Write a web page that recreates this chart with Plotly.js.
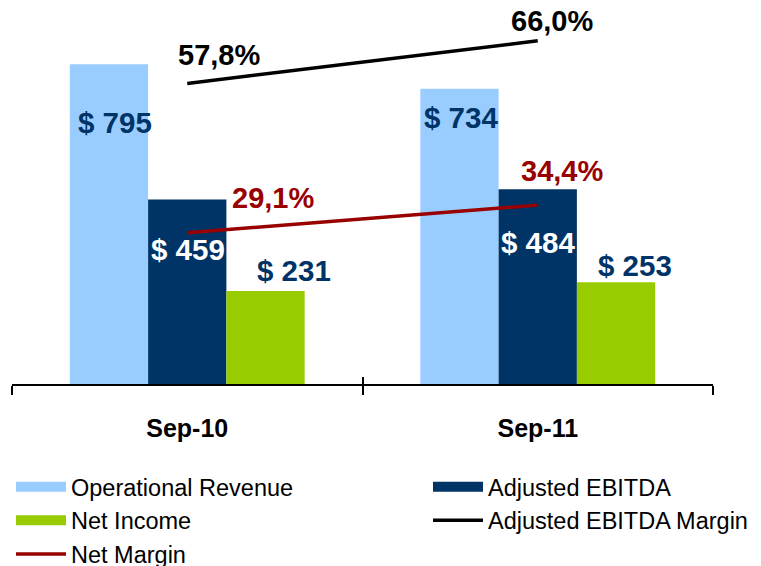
<!DOCTYPE html>
<html>
<head>
<meta charset="utf-8">
<script src="https://cdn.plot.ly/plotly-3.0.1.min.js"></script>
<style>html,body{margin:0;padding:0;background:#ffffff;}</style>
</head>
<body>
<div id="chart" style="width:761px;height:566px;"></div>
<script>
// ---- data ----
const categories = ['Sep-10', 'Sep-11'];
const operationalRevenue = [795, 734];
const adjustedEbitda = [459, 484];
const netIncome = [231, 253];
const adjustedEbitdaMargin = [57.8, 66.0];
const netMargin = [29.1, 34.4];

// ---- styles ----
const FONT = 'Arial, "Liberation Sans", sans-serif';
const BARGAP = 0.33;
const C_REV = '#99CCFF', C_EBITDA = '#003366', C_NI = '#99CC00';
const C_EM = '#000000', C_NM = '#990000', C_LABEL = '#003366';

const barSeries = [
  {name: 'Operational Revenue', values: operationalRevenue, color: C_REV, textColor: C_LABEL, legend: 'legend',
   shifts: [[6, -58], [2, -29]]},
  {name: 'Adjusted EBITDA', values: adjustedEbitda, color: C_EBITDA, textColor: '#FFFFFF', legend: 'legend2',
   shifts: [[1, -50], [0, -53]]},
  {name: 'Net Income', values: netIncome, color: C_NI, textColor: C_LABEL, legend: 'legend',
   shifts: [[28, 21], [19, 17]]}
];
const lineSeries = [
  {name: 'Adjusted EBITDA Margin', values: adjustedEbitdaMargin, color: C_EM, legend: 'legend2',
   shifts: [[32, 28], [14, 20]]},
  {name: 'Net Margin', values: netMargin, color: C_NM, legend: 'legend',
   shifts: [[86, 35], [24, 34]]}
];

const traces = [];
const annotations = [];
const barW = (1 - BARGAP) / barSeries.length;

barSeries.forEach((s, k) => {
  traces.push({
    type: 'bar', name: s.name, x: categories, y: s.values,
    marker: {color: s.color, line: {width: 0}},
    showlegend: false, legendgroup: s.name, hoverinfo: 'skip'
  });
  s.values.forEach((v, i) => {
    annotations.push({
      xref: 'x', yref: 'y', x: i + (k - (barSeries.length - 1) / 2) * barW, y: v,
      xanchor: 'center', yanchor: 'middle', showarrow: false,
      xshift: s.shifts[i][0], yshift: s.shifts[i][1],
      text: '$ ' + v, font: {family: FONT, size: 29.5, color: s.textColor, weight: 'bold'}
    });
  });
});

lineSeries.forEach((s) => {
  traces.push({
    type: 'scatter', mode: 'lines', name: s.name, x: categories, y: s.values,
    yaxis: 'y2', line: {color: s.color, width: 3.5}, legend: s.legend, hoverinfo: 'skip'
  });
  s.values.forEach((v, i) => {
    annotations.push({
      xref: 'x', yref: 'y2', x: categories[i], y: v,
      xanchor: 'center', yanchor: 'middle', showarrow: false,
      xshift: s.shifts[i][0], yshift: s.shifts[i][1],
      text: v.toFixed(1).replace('.', ',') + '%',
      font: {family: FONT, size: 29, color: s.color, weight: 'bold'}
    });
  });
});

// legend proxies for the bar series (wide rectangular keys); placed on x2 so that axis is drawn
barSeries.forEach((s) => {
  traces.push({
    type: 'scatter', mode: 'lines', name: s.name, x: [null], y: [null], xaxis: 'x2',
    line: {color: s.color, width: 13}, legend: s.legend, legendgroup: s.name, hoverinfo: 'skip'
  });
});
const legendOrder = ['Operational Revenue', 'Net Income', 'Net Margin', 'Adjusted EBITDA', 'Adjusted EBITDA Margin'];
traces.forEach(t => { if (t.showlegend !== false) t.legendrank = 1000 + legendOrder.indexOf(t.name); });

const legendCommon = {
  orientation: 'v', xref: 'container', yref: 'container', xanchor: 'left', yanchor: 'top',
  bgcolor: 'rgba(0,0,0,0)', borderwidth: 0, itemwidth: 50, tracegroupgap: 0,
  font: {family: FONT, size: 23.5, color: '#000000'}, itemclick: false
};

const layout = {
  width: 761, height: 566,
  margin: {l: 12, r: 48, t: 20, b: 182, autoexpand: false},
  paper_bgcolor: '#FFFFFF', plot_bgcolor: '#FFFFFF',
  barmode: 'group', bargap: BARGAP, bargroupgap: 0,
  showlegend: true,
  xaxis: {
    type: 'category', showline: true, linecolor: '#000000', linewidth: 2,
    ticks: 'outside', tickson: 'boundaries', ticklen: 9, tickwidth: 2, tickcolor: '#000000',
    showgrid: false, zeroline: false,
    tickfont: {family: FONT, size: 25, color: '#000000', weight: 'bold'},
    ticklabelstandoff: 21
  },
  xaxis2: {
    overlaying: 'x', anchor: 'y', type: 'linear', range: [-0.5, 1.5], tick0: -0.5, dtick: 1,
    ticks: 'inside', ticklen: 7, tickwidth: 2, tickcolor: '#000000',
    showticklabels: false, showgrid: false, zeroline: false, showline: false
  },
  yaxis: {range: [0, 905], visible: false, showgrid: false, zeroline: false, fixedrange: true},
  yaxis2: {range: [0, 70], overlaying: 'y', visible: false, showgrid: false, zeroline: false},
  legend: Object.assign({}, legendCommon, {x: 11 / 761, y: 1 - 465 / 566}),
  legend2: Object.assign({}, legendCommon, {x: 428 / 761, y: 1 - 465 / 566}),
  annotations: annotations,
  font: {family: FONT}
};

Plotly.newPlot('chart', traces, layout, {displayModeBar: false, staticPlot: true});
</script>
</body>
</html>
